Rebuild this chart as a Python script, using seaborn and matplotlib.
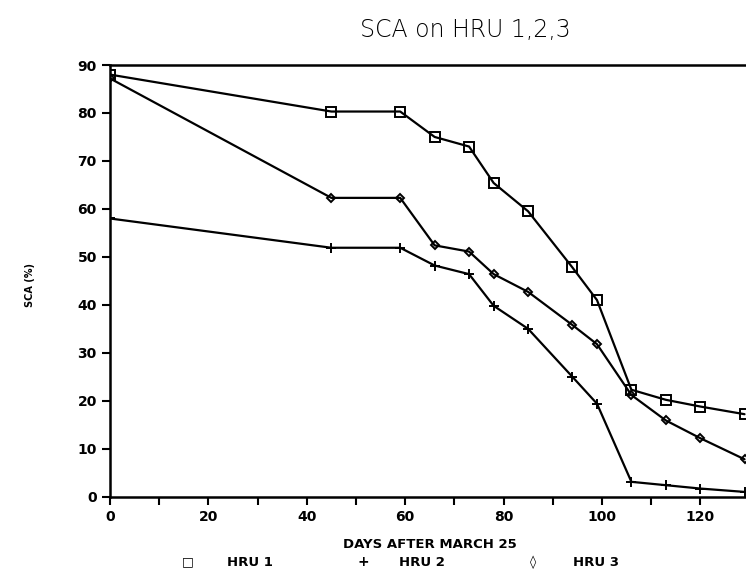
import matplotlib
matplotlib.use('Agg')
import matplotlib.pyplot as plt
import seaborn as sns
import pandas as pd

days = [0, 45, 59, 66, 73, 78, 85, 94, 99, 106, 113, 120, 129]
hru1 = [88, 80.3, 80.3, 75, 73, 65.4, 59.5, 47.8, 41, 22.3, 20.2, 18.8, 17.2]
hru2 = [58, 51.9, 51.9, 48.2, 46.4, 39.8, 35, 25, 19.4, 3.1, 2.4, 1.7, 1]
hru3 = [87.2, 62.3, 62.3, 52.4, 51.1, 46.4, 42.7, 35.8, 31.8, 21.2, 15.9, 12.2, 7.8]

series = {'HRU 1': hru1, 'HRU 2': hru2, 'HRU 3': hru3}
markers = {'HRU 1': ('s', 6.5), 'HRU 2': ('+', 7), 'HRU 3': ('D', 4.5)}

sns.set_style('ticks')
plt.rcParams['font.family'] = ['DejaVu Sans']
plt.rcParams['text.color'] = 'black'

fig = plt.figure(figsize=(7.46, 5.69), dpi=100)
ax = fig.add_axes([110 / 746, 1 - 496.7 / 569, 636 / 746, (496.7 - 65) / 569])

for name, vals in series.items():
    df = pd.DataFrame({'day': days, 'sca': vals})
    m, ms = markers[name]
    sns.lineplot(data=df, x='day', y='sca', ax=ax, color='black', linewidth=1.6,
                 marker=m, markersize=ms, markerfacecolor='none',
                 markeredgecolor='black', markeredgewidth=1.4)

ax.set_xlim(0, 129.3)
ax.set_ylim(0, 90)
ax.set_xticks(range(0, 130, 20))
ax.set_xticks(range(0, 130, 10), minor=True)
ax.set_yticks(range(0, 91, 10))
ax.tick_params(axis='both', which='both', direction='out', width=1.5, colors='black',
               labelsize=10)
ax.tick_params(axis='both', which='major', length=6)
ax.tick_params(axis='x', which='minor', length=6)
for lab in ax.get_xticklabels() + ax.get_yticklabels():
    lab.set_fontweight('bold')
for side in ['left', 'bottom', 'top']:
    ax.spines[side].set_linewidth(1.8)
    ax.spines[side].set_color('black')
ax.spines['right'].set_visible(False)
ax.set_xlabel('')
ax.set_ylabel('')

fig.text(465 / 746, 1 - 30 / 569, 'SCA on HRU 1,2,3', ha='center', va='center',
         fontsize=17, fontweight='light')
fig.text(30 / 746, 1 - 285 / 569, 'SCA (%)', rotation=90, ha='center', va='center',
         fontsize=7, fontweight='bold')
fig.text(430 / 746, 1 - 545 / 569, 'DAYS AFTER MARCH 25', ha='center', va='center',
         fontsize=9.5, fontweight='bold')

legend_y = 1 - 562 / 569
fig.text(188 / 746, legend_y, '\u25a1', ha='center', va='center', fontsize=9, fontweight='bold')
fig.text(250 / 746, legend_y, 'HRU 1', ha='center', va='center', fontsize=9.5, fontweight='bold')
fig.text(363 / 746, legend_y, '+', ha='center', va='center', fontsize=10, fontweight='bold')
fig.text(422 / 746, legend_y, 'HRU 2', ha='center', va='center', fontsize=9.5, fontweight='bold')
fig.text(533 / 746, legend_y, '\u25ca', ha='center', va='center', fontsize=9, fontweight='bold')
fig.text(596 / 746, legend_y, 'HRU 3', ha='center', va='center', fontsize=9.5, fontweight='bold')

fig.savefig('out.png', dpi=100)
